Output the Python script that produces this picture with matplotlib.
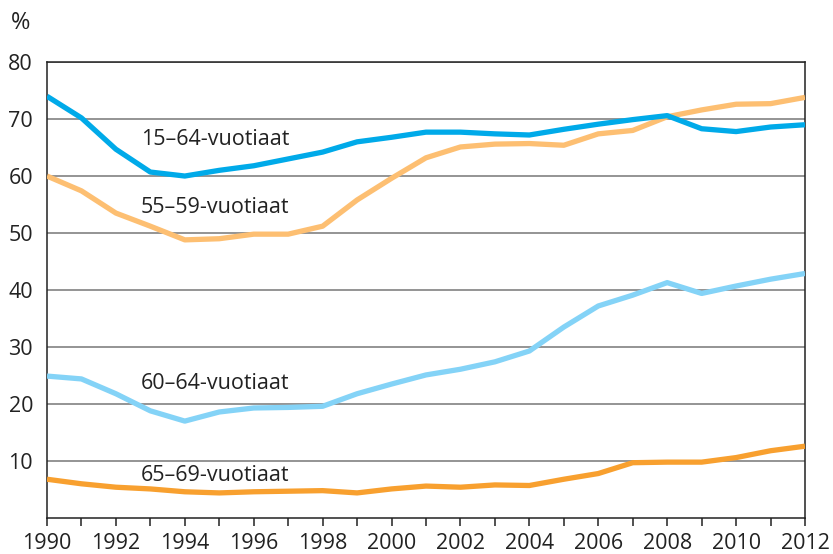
import numpy as np
import matplotlib
matplotlib.use("Agg")
import matplotlib.pyplot as plt

years = np.arange(1990, 2013)

ika_15_64 = [74.0, 70.2, 64.7, 60.7, 60.0, 61.0, 61.8, 63.0, 64.2, 66.0, 66.8, 67.7,
             67.7, 67.4, 67.2, 68.2, 69.1, 69.9, 70.6, 68.3, 67.8, 68.6, 69.0]
ika_55_59 = [60.0, 57.4, 53.5, 51.2, 48.8, 49.0, 49.8, 49.8, 51.2, 55.8, 59.6, 63.2,
             65.1, 65.6, 65.7, 65.4, 67.4, 68.0, 70.4, 71.6, 72.6, 72.7, 73.8]
ika_60_64 = [24.9, 24.4, 21.8, 18.8, 17.0, 18.6, 19.3, 19.4, 19.6, 21.8, 23.5, 25.1,
             26.1, 27.4, 29.3, 33.5, 37.2, 39.1, 41.3, 39.4, 40.7, 41.9, 42.9]
ika_65_69 = [6.8, 6.0, 5.4, 5.1, 4.6, 4.4, 4.6, 4.7, 4.8, 4.4, 5.1, 5.6,
             5.4, 5.8, 5.7, 6.8, 7.8, 9.7, 9.8, 9.8, 10.6, 11.8, 12.6]

labels = ["15–64-vuotiaat", "55–59-vuotiaat", "60–64-vuotiaat", "65–69-vuotiaat"]
label_y = [66.4, 54.5, 23.6, 7.4]

plt.rcParams['font.family'] = ['Open Sans', 'DejaVu Sans']

fig = plt.figure(figsize=(8.33, 5.54), dpi=100)
ax = fig.add_axes([0.0564, 0.065, 0.91, 0.823])

ax.plot(years, ika_15_64, color='#00aae9', lw=3.8, solid_capstyle='butt', zorder=4)
ax.plot(years, ika_55_59, color='#fdbf72', lw=3.8, solid_capstyle='butt', zorder=3)
ax.plot(years, ika_60_64, color='#84d3f7', lw=3.8, solid_capstyle='butt', zorder=3)
ax.plot(years, ika_65_69, color='#f8a02f', lw=3.8, solid_capstyle='butt', zorder=3)

# sarjojen nimet suoraan kuvaan
for txt, yy in zip(labels, label_y):
    ax.text(1992.72, yy, txt, fontsize=15.5, color='#222222', va='center', ha='left')

ax.set_xlim(1990, 2012)
ax.set_ylim(0, 80)
ax.set_yticks(range(10, 90, 10))
ax.set_xticks(years, minor=True)
ax.set_xticks(range(1990, 2013, 2))
ax.yaxis.grid(True, color='#777777', lw=1.1)
ax.set_axisbelow(True)
ax.tick_params(axis='y', length=0, labelsize=15.5, pad=10, colors='#222222')
ax.tick_params(axis='x', which='both', length=6, width=1.1, direction='out',
               labelsize=15.5, pad=5, colors='#222222')
for s in ax.spines.values():
    s.set_color('#222222')
    s.set_linewidth(1.1)

fig.text(0.013, 0.958, '%', fontsize=17, color='#222222', va='center')

fig.savefig('out.png', dpi=100)
